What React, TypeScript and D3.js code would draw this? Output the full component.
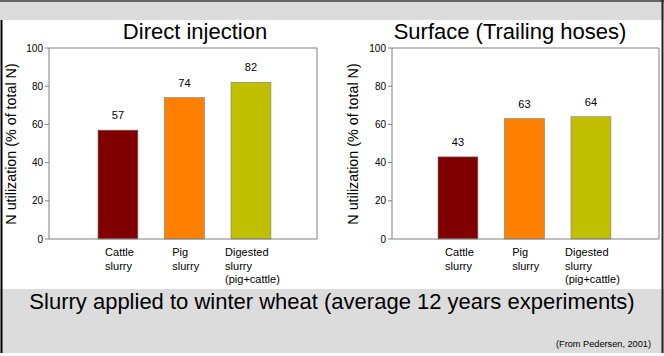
import React, { useLayoutEffect, useRef } from "react";
import * as d3 from "d3";

const categories = ["Cattle slurry", "Pig slurry", "Digested slurry (pig+cattle)"];
const categoryLines = [["Cattle", "slurry"], ["Pig", "slurry"], ["Digested", "slurry", "(pig+cattle)"]];
const directValues = [57, 74, 82];
const surfaceValues = [43, 63, 64];
const yTicks = [0, 20, 40, 60, 80, 100];
const barColors = ["#800000", "#ff8000", "#c0c000"];
const panelTitles = ["Direct injection", "Surface (Trailing hoses)"];
const yAxisTitle = "N utilization (% of total N)";
const footerTitle = "Slurry applied to winter wheat (average 12 years experiments)";
const sourceNote = "(From Pedersen, 2001)";

const W = 664;
const H = 356;
const FONT = "'Liberation Sans', Arial, sans-serif";

type PanelProps = {
  values: number[];
  axisX: number;
  frameRight: number;
  bandStart: number;
  title: string;
  titleX: number;
  yTitleX: number;
};

function Panel({ values, axisX, frameRight, bandStart, title, titleX, yTitleX }: PanelProps) {
  const y = d3.scaleLinear().domain([0, 100]).range([239, 48]);
  const x = d3
    .scaleBand<string>()
    .domain(categories)
    .range([bandStart, bandStart + 199.5])
    .paddingInner(0.4)
    .paddingOuter(0.2);
  const axisColor = "#808080";
  return (
    <g>
      <text x={titleX} y={39} textAnchor="middle" fontFamily={FONT} fontSize={22} fill="#000">
        {title}
      </text>
      <text
        transform={`translate(${yTitleX},${144}) rotate(-90)`}
        textAnchor="middle"
        fontFamily={FONT}
        fontSize={14.3}
        fill="#000"
      >
        {yAxisTitle}
      </text>
      <path
        d={`M${axisX},${y(100)}H${frameRight}V${y(0)}`}
        fill="none"
        stroke={axisColor}
        strokeWidth={1}
      />
      {categories.map((c, i) => (
        <rect
          key={c}
          x={x(c)}
          y={y(values[i])}
          width={x.bandwidth()}
          height={y(0) - y(values[i])}
          fill={barColors[i]}
          stroke="#7a7a7a"
          strokeWidth={0.6}
        />
      ))}
      <line x1={axisX} x2={frameRight} y1={y(0)} y2={y(0)} stroke={axisColor} />
      <line x1={axisX} x2={axisX} y1={y(0)} y2={y(100)} stroke={axisColor} />
      {yTicks.map((t) => (
        <g key={t}>
          <line x1={axisX - 4} x2={axisX} y1={y(t)} y2={y(t)} stroke={axisColor} />
          <text
            x={axisX - 6}
            y={y(t) + 3.5}
            textAnchor="end"
            fontFamily={FONT}
            fontSize={10}
            fill="#000"
          >
            {t}
          </text>
        </g>
      ))}
      {categories.map((c, i) => (
        <text
          key={"v" + c}
          x={(x(c) as number) + x.bandwidth() / 2}
          y={y(values[i]) - 11}
          textAnchor="middle"
          fontFamily={FONT}
          fontSize={11}
          fill="#000"
        >
          {values[i]}
        </text>
      ))}
      {categories.map((c, i) => (
        <g
          key={"c" + c}
          className="cat-label"
          data-cx={(x(c) as number) + x.bandwidth() / 2}
        >
          {categoryLines[i].map((ln, j) => (
            <text
              key={j}
              x={0}
              y={256 + j * 13.5}
              fontFamily={FONT}
              fontSize={11}
              fill="#000"
            >
              {ln}
            </text>
          ))}
        </g>
      ))}
    </g>
  );
}

export default function App() {
  const ref = useRef<SVGSVGElement>(null);
  useLayoutEffect(() => {
    if (!ref.current) return;
    d3.select(ref.current)
      .selectAll<SVGGElement, unknown>(".cat-label")
      .each(function () {
        const g = this as SVGGElement;
        const cx = +(g.getAttribute("data-cx") || 0);
        const w = g.getBBox().width;
        d3.select(g).attr("transform", `translate(${cx - w / 2 + 1.5},0)`);
      });
  }, []);
  return (
    <svg
      ref={ref}
      width={W}
      height={H}
      style={{ position: "absolute", left: 0, top: 0 }}
    >
      <rect x={0} y={0} width={W} height={H} fill="#fff" />
      <rect x={0} y={0} width={W} height={20} fill="#dcdcdc" />
      <rect x={0} y={0} width={W} height={2} fill="#666" />
      <rect x={0} y={289} width={W} height={64} fill="#dcdcdc" />
      <line x1={1.5} x2={1.5} y1={20} y2={353} stroke="#000" strokeWidth={2} />
      <line x1={662.5} x2={662.5} y1={0} y2={353} stroke="#222" strokeWidth={2} />
      <Panel
        values={directValues}
        axisX={49}
        frameRight={317}
        bandStart={84.7}
        title={panelTitles[0]}
        titleX={195}
        yTitleX={15.5}
      />
      <Panel
        values={surfaceValues}
        axisX={392}
        frameRight={659}
        bandStart={424.7}
        title={panelTitles[1]}
        titleX={510}
        yTitleX={357.5}
      />
      <text x={332} y={309} textAnchor="middle" fontFamily={FONT} fontSize={22} fill="#000">
        {footerTitle}
      </text>
      <text x={651} y={347} textAnchor="end" fontFamily={FONT} fontSize={9.2} fill="#000">
        {sourceNote}
      </text>
    </svg>
  );
}
